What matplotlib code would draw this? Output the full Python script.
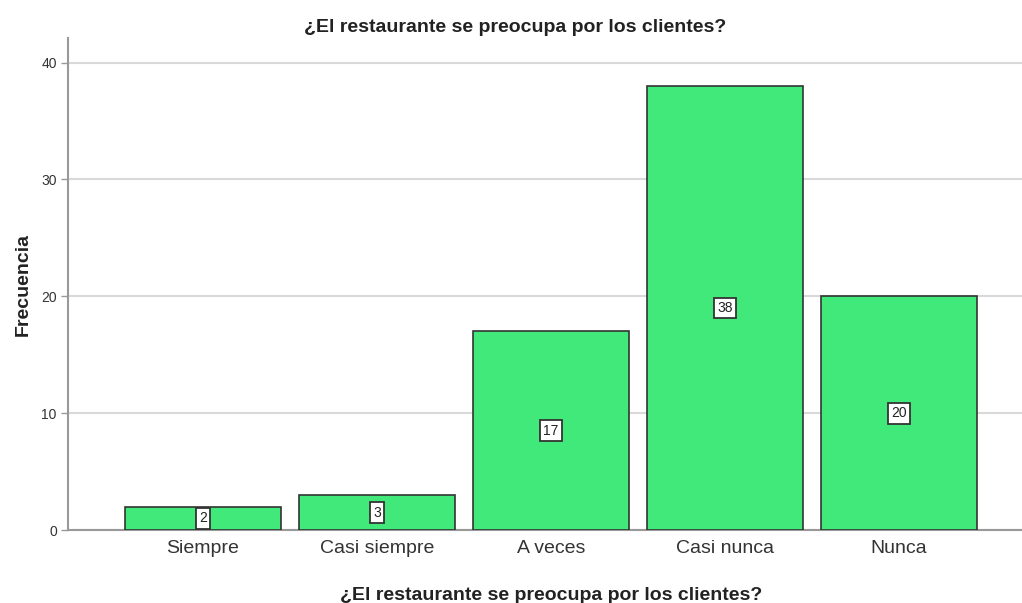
import numpy as np
import matplotlib.pyplot as plt

categorias = ['Siempre', 'Casi siempre', 'A veces', 'Casi nunca', 'Nunca']
frecuencia = [2, 3, 17, 38, 20]
titulo = '¿El restaurante se preocupa por los clientes?'

plt.rcParams['font.family'] = ['Liberation Sans', 'DejaVu Sans']

fig = plt.figure(figsize=(10.22, 6.03), dpi=100)
ax = fig.add_axes([0.0665, 0.121, 0.9335, 0.816])

x = np.arange(len(categorias))
ax.bar(x, frecuencia, width=0.9, color='#40e97a', edgecolor='#333333', linewidth=1.2, zorder=3)

# etiquetas de valor en el centro de cada barra
for xi, v in zip(x, frecuencia):
    ax.text(xi, v / 2, str(v), ha='center', va='center', fontsize=10, color='#222222', zorder=4,
            bbox=dict(boxstyle='square,pad=0.25', facecolor='white', edgecolor='#333333', linewidth=1.3))

ax.set_xlim(-0.776, 4.707)
ax.set_ylim(0, 42.1)
ax.set_yticks([0, 10, 20, 30, 40])
ax.set_xticks(x)
ax.set_xticklabels(categorias, fontsize=14, color='#333333')
ax.tick_params(axis='x', length=0, pad=7)
ax.tick_params(axis='y', length=5, width=1, color='#999999', labelsize=10, labelcolor='#333333', pad=3)
ax.yaxis.grid(True, color='#d9d9d9', linewidth=1.5, zorder=0)

for s in ['top', 'right']:
    ax.spines[s].set_visible(False)
ax.spines['left'].set_color('#999999')
ax.spines['left'].set_linewidth(1.5)
ax.spines['bottom'].set_color('#999999')
ax.spines['bottom'].set_linewidth(1.5)

ax.set_title(titulo, fontsize=14, fontweight='bold', pad=4, x=0.469, color='#222222')
ax.set_xlabel(titulo, fontsize=14, fontweight='bold', labelpad=22, color='#222222')
ax.xaxis.label.set_x(0.506)
ax.set_ylabel('Frecuencia', fontsize=14, fontweight='bold', labelpad=7, color='#222222')

fig.savefig('out.png', dpi=100)
